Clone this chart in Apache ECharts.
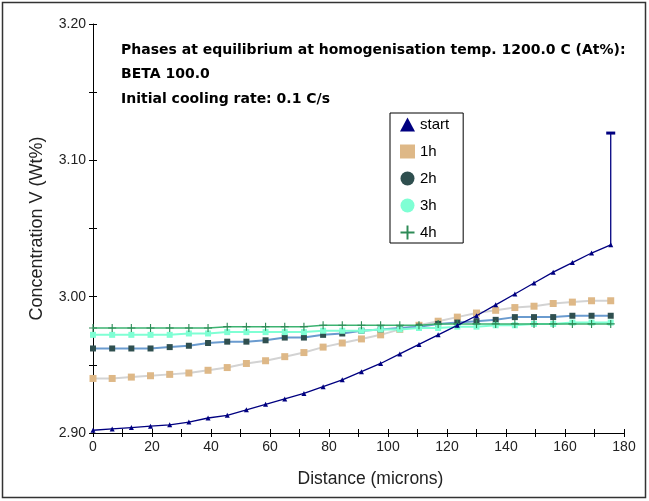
<!DOCTYPE html>
<html><head><meta charset="utf-8">
<script src="https://cdn.jsdelivr.net/npm/echarts@6/dist/echarts.min.js"></script>
<style>html,body{margin:0;padding:0;background:#fff}#c{width:649px;height:501px}</style>
</head><body><div id="c"></div>
<script>
var distance = [0,6.5,13,19.5,26,32.5,39,45.5,52,58.5,65,71.5,78,84.5,91,97.5,104,110.5,117,123.5,130,136.5,143,149.5,156,162.5,169,175.5];
var startVals = [2.902,2.903,2.904,2.905,2.906,2.908,2.911,2.913,2.917,2.921,2.925,2.929,2.934,2.939,2.945,2.951,2.958,2.965,2.972,2.979,2.986,2.994,3.002,3.010,3.018,3.025,3.032,3.038];
var startEnd = 3.12;
var h1Vals = [2.940,2.940,2.941,2.942,2.943,2.944,2.946,2.948,2.951,2.953,2.956,2.959,2.963,2.966,2.969,2.972,2.976,2.979,2.982,2.985,2.988,2.990,2.992,2.993,2.995,2.996,2.997,2.997];
var h2Vals = [2.962,2.962,2.962,2.962,2.963,2.964,2.966,2.967,2.967,2.968,2.970,2.970,2.972,2.973,2.975,2.976,2.977,2.978,2.980,2.981,2.982,2.983,2.985,2.985,2.985,2.986,2.986,2.986];
var h3Vals = [2.972,2.972,2.972,2.972,2.972,2.973,2.973,2.974,2.974,2.974,2.974,2.974,2.975,2.975,2.975,2.976,2.976,2.977,2.977,2.978,2.978,2.979,2.979,2.980,2.980,2.981,2.981,2.981];
var h4Vals = [2.977,2.977,2.977,2.977,2.977,2.977,2.977,2.978,2.978,2.978,2.978,2.978,2.979,2.979,2.979,2.979,2.979,2.979,2.980,2.980,2.980,2.980,2.980,2.980,2.980,2.980,2.980,2.980];
var seriesNames = ['start','1h','2h','3h','4h'];
var noteLines = ['Phases at equilibrium at homogenisation temp. 1200.0 C (At%):','BETA 100.0','Initial cooling rate: 0.1 C/s'];
var xTitle = 'Distance (microns)';
var yTitle = 'Concentration V (Wt%)';

function pairs(v){ return distance.map(function(d,i){ return [d, v[i]]; }); }
var startData = pairs(startVals);
startData.push({value:[distance[distance.length-1], startEnd], symbol:'rect', symbolSize:[9,3]});

var plusPath = 'path://M4.3,0H5.7V4.3H10V5.7H5.7V10H4.3V5.7H0V4.3H4.3Z';
var font = '"Liberation Sans", Arial, sans-serif';
var wideFont = '"DejaVu Sans", Verdana, sans-serif';

var chart = echarts.init(document.getElementById('c'), null, {renderer:'canvas'});
var xLabelFmt = function(v){ return (Math.round(v) % 20 === 0) ? String(Math.round(v)) : ''; };
var yLabelFmt = function(v){ var k = Math.round(v*100); return (k % 10 === 0) ? v.toFixed(2) : ''; };

chart.setOption({
  animation:false,
  backgroundColor:'#fff',
  grid:{left:93,right:25,top:24,bottom:68,containLabel:false},
  xAxis:[
    {type:'value',min:0,max:180,interval:10,
     name:xTitle,nameLocation:'middle',nameGap:37,
     nameTextStyle:{fontFamily:font,fontSize:17.5,color:'#222',padding:[0,0,0,24]},
     axisLine:{show:true,lineStyle:{color:'#000',width:1}},
     axisTick:{show:true,inside:false,length:4,lineStyle:{color:'#000'}},
     axisLabel:{formatter:xLabelFmt,fontFamily:font,fontSize:14,color:'#222',margin:7,showMaxLabel:true,showMinLabel:true},
     splitLine:{show:false}},
    {type:'value',min:0,max:180,interval:10,position:'bottom',
     axisLine:{show:false},axisTick:{show:true,inside:true,length:4,lineStyle:{color:'#000'}},
     axisLabel:{show:false},splitLine:{show:false}}
  ],
  yAxis:[
    {type:'value',min:2.90,max:3.20,interval:0.05,
     name:yTitle,nameLocation:'middle',nameGap:47,nameRotate:90,
     nameTextStyle:{fontFamily:font,fontSize:18,color:'#222'},
     axisLine:{show:true,lineStyle:{color:'#000',width:1}},
     axisTick:{show:true,inside:false,length:4,lineStyle:{color:'#000'}},
     axisLabel:{formatter:yLabelFmt,fontFamily:font,fontSize:14,color:'#222',margin:7},
     splitLine:{show:false}},
    {type:'value',min:2.90,max:3.20,interval:0.05,position:'left',
     axisLine:{show:false},axisTick:{show:true,inside:true,length:4,lineStyle:{color:'#000'}},
     axisLabel:{show:false},splitLine:{show:false}}
  ],
  legend:{
    left:390,top:113,orient:'vertical',
    backgroundColor:'#fff',borderColor:'#000',borderWidth:1,
    padding:[4,14,3,10],itemGap:12,itemWidth:15,itemHeight:14,
    textStyle:{fontFamily:font,fontSize:15,color:'#000',padding:[0,0,0,0]},
    data:[
      {name:'start',icon:'triangle',itemStyle:{color:'#000080'}},
      {name:'1h',icon:'rect',itemStyle:{color:'#DEB887'}},
      {name:'2h',icon:'circle',itemStyle:{color:'#2F4F4F'}},
      {name:'3h',icon:'circle',itemStyle:{color:'#7FFFD4'}},
      {name:'4h',icon:plusPath,itemStyle:{color:'#2E8B57'}}
    ]
  },
  graphic:[
    {type:'rect',shape:{x:2.5,y:2.5,width:643,height:495},style:{fill:'none',stroke:'#333',lineWidth:1.5},silent:true,z:100},
    {type:'text',left:121,top:43,style:{text:noteLines[0],font:'bold 14px '+wideFont,fill:'#000'}},
    {type:'text',left:121,top:67,style:{text:noteLines[1],font:'bold 14px '+wideFont,fill:'#000'}},
    {type:'text',left:121,top:92,style:{text:noteLines[2],font:'bold 14px '+wideFont,fill:'#000'}}
  ],
  series:[
    {name:'1h',type:'line',data:pairs(h1Vals),z:2,symbol:'rect',symbolSize:7,
     lineStyle:{color:'#D3D3D3',width:2},itemStyle:{color:'#DEB887'}},
    {name:'2h',type:'line',data:pairs(h2Vals),z:3,symbol:'rect',symbolSize:6,
     lineStyle:{color:'#6A9BCF',width:2},itemStyle:{color:'#2F4F4F'}},
    {name:'3h',type:'line',data:pairs(h3Vals),z:4,symbol:'rect',symbolSize:6,
     lineStyle:{color:'#7FFFD4',width:2},itemStyle:{color:'#7FFFD4'}},
    {name:'4h',type:'line',data:pairs(h4Vals),z:5,symbol:plusPath,symbolSize:8,
     lineStyle:{color:'#3CB371',width:1.5},itemStyle:{color:'#2E8B57'}},
    {name:'start',type:'line',data:startData,z:6,symbol:'triangle',symbolSize:5,
     lineStyle:{color:'#000080',width:1.3},itemStyle:{color:'#000080'}}
  ]
});
</script></body></html>
